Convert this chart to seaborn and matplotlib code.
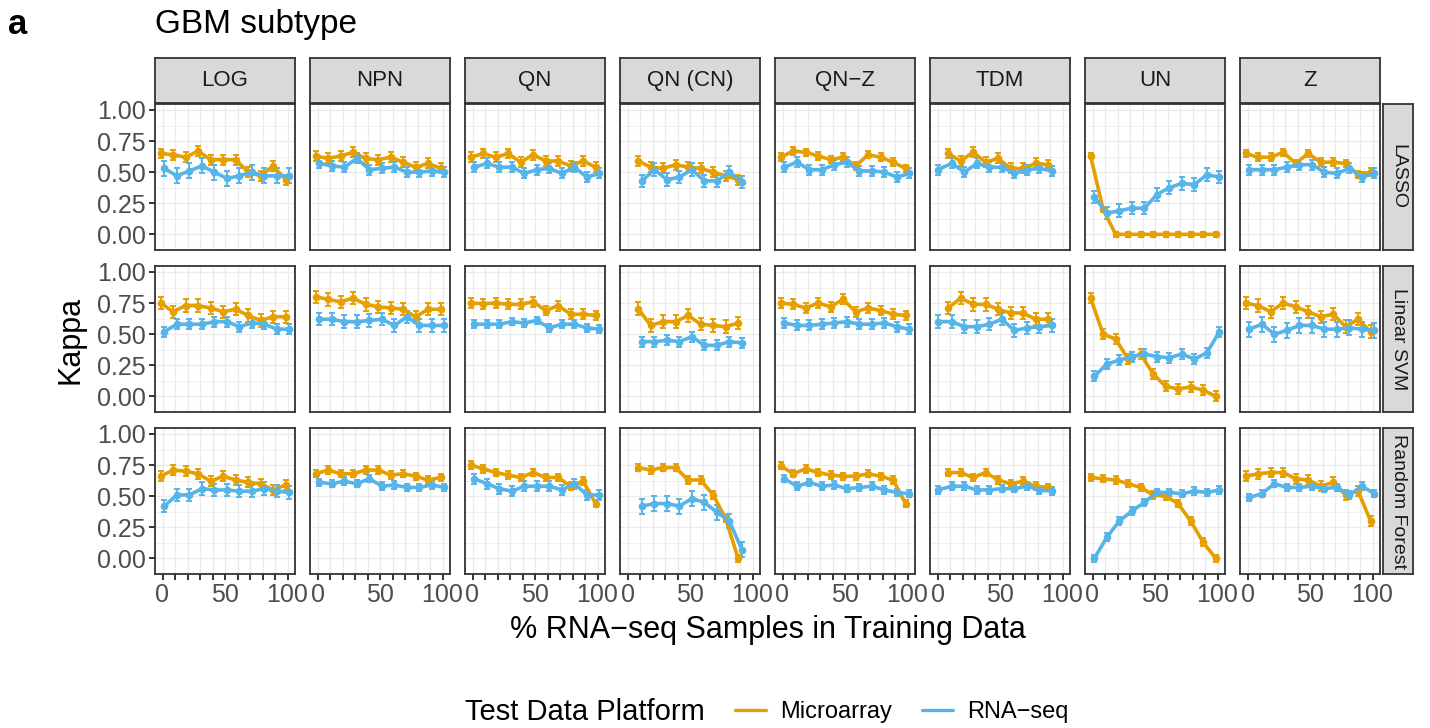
import numpy as np
import pandas as pd
import seaborn as sns
import matplotlib
matplotlib.use("Agg")
import matplotlib.pyplot as plt
from matplotlib.lines import Line2D

nan = np.nan

# x values (% RNA-seq samples in training data)
pcts = [0, 10, 20, 30, 40, 50, 60, 70, 80, 90, 100]
norms = ["LOG", "NPN", "QN", "QN (CN)", "QN\u2212Z", "TDM", "UN", "Z"]
methods = ["LASSO", "Linear SVM", "Random Forest"]
platforms = ["Microarray", "RNA\u2212seq"]

# mean kappa, one row per normalization (same order as norms)
lasso_micro = [
    [0.65, 0.64, 0.62, 0.67, 0.60, 0.60, 0.60, 0.50, 0.47, 0.55, 0.44],
    [0.63, 0.61, 0.63, 0.66, 0.61, 0.60, 0.62, 0.58, 0.54, 0.57, 0.53],
    [0.62, 0.65, 0.62, 0.65, 0.58, 0.64, 0.59, 0.59, 0.55, 0.59, 0.54],
    [nan, 0.59, 0.54, 0.53, 0.56, 0.54, 0.53, 0.50, 0.47, 0.44, nan],
    [0.62, 0.67, 0.66, 0.63, 0.60, 0.62, 0.55, 0.64, 0.62, 0.58, 0.53],
    [nan, 0.65, 0.59, 0.66, 0.58, 0.61, 0.53, 0.53, 0.57, 0.56, nan],
    [0.63, 0.20, 0.00, 0.00, 0.00, 0.00, 0.00, 0.00, 0.00, 0.00, 0.00],
    [0.65, 0.62, 0.62, 0.66, 0.57, 0.65, 0.58, 0.58, 0.57, 0.48, 0.50],
]
lasso_rna = [
    [0.53, 0.47, 0.51, 0.55, 0.50, 0.45, 0.47, 0.50, 0.47, 0.47, 0.47],
    [0.57, 0.55, 0.54, 0.61, 0.52, 0.53, 0.54, 0.50, 0.50, 0.51, 0.50],
    [0.54, 0.57, 0.54, 0.54, 0.49, 0.52, 0.53, 0.49, 0.54, 0.46, 0.49],
    [nan, 0.43, 0.52, 0.44, 0.46, 0.52, 0.43, 0.43, 0.50, 0.42, nan],
    [0.54, 0.58, 0.52, 0.52, 0.56, 0.58, 0.51, 0.51, 0.50, 0.46, 0.49],
    [0.52, 0.57, 0.50, 0.57, 0.54, 0.54, 0.49, 0.52, 0.53, 0.51, nan],
    [0.30, 0.17, 0.19, 0.21, 0.21, 0.32, 0.375, 0.41, 0.40, 0.48, 0.46],
    [0.52, 0.52, 0.52, 0.54, 0.56, 0.56, 0.50, 0.49, 0.53, 0.46, 0.49],
]
svm_micro = [
    [0.75, 0.68, 0.73, 0.73, 0.71, 0.68, 0.70, 0.65, 0.61, 0.64, 0.64],
    [0.80, 0.78, 0.76, 0.79, 0.74, 0.72, 0.71, 0.70, 0.64, 0.70, 0.70],
    [0.75, 0.745, 0.75, 0.74, 0.74, 0.76, 0.69, 0.73, 0.66, 0.66, 0.65],
    [nan, 0.705, 0.57, 0.60, 0.60, 0.65, 0.58, 0.57, 0.56, 0.59, nan],
    [0.75, 0.74, 0.71, 0.75, 0.72, 0.78, 0.68, 0.71, 0.69, 0.66, 0.65],
    [nan, 0.71, 0.79, 0.74, 0.74, 0.70, 0.67, 0.67, 0.62, 0.62, nan],
    [0.79, 0.50, 0.46, 0.30, 0.34, 0.18, 0.08, 0.06, 0.075, 0.05, 0.00],
    [0.75, 0.73, 0.68, 0.75, 0.72, 0.68, 0.64, 0.66, 0.56, 0.62, 0.52],
]
svm_rna = [
    [0.52, 0.58, 0.58, 0.58, 0.60, 0.60, 0.56, 0.59, 0.58, 0.54, 0.54],
    [0.62, 0.62, 0.60, 0.60, 0.61, 0.62, 0.57, 0.64, 0.57, 0.57, 0.57],
    [0.58, 0.58, 0.58, 0.60, 0.59, 0.61, 0.55, 0.58, 0.58, 0.55, 0.54],
    [nan, 0.44, 0.44, 0.45, 0.44, 0.48, 0.41, 0.41, 0.44, 0.43, nan],
    [0.59, 0.57, 0.57, 0.58, 0.59, 0.60, 0.58, 0.58, 0.59, 0.56, 0.54],
    [0.60, 0.60, 0.56, 0.56, 0.58, 0.62, 0.53, 0.55, 0.56, 0.57, nan],
    [0.16, 0.26, 0.29, 0.32, 0.34, 0.32, 0.31, 0.34, 0.30, 0.35, 0.52],
    [0.54, 0.58, 0.50, 0.53, 0.57, 0.57, 0.54, 0.54, 0.55, 0.54, 0.53],
]
rf_micro = [
    [0.66, 0.71, 0.70, 0.68, 0.62, 0.66, 0.63, 0.61, 0.60, 0.55, 0.59],
    [0.68, 0.71, 0.68, 0.68, 0.71, 0.71, 0.67, 0.68, 0.66, 0.63, 0.65],
    [0.75, 0.72, 0.69, 0.67, 0.65, 0.69, 0.65, 0.65, 0.58, 0.62, 0.44],
    [nan, 0.73, 0.71, 0.73, 0.73, 0.63, 0.63, 0.51, 0.32, 0.00, nan],
    [0.745, 0.68, 0.72, 0.69, 0.67, 0.66, 0.66, 0.68, 0.66, 0.63, 0.44],
    [nan, 0.69, 0.69, 0.65, 0.69, 0.63, 0.60, 0.62, 0.58, 0.57, nan],
    [0.65, 0.64, 0.63, 0.60, 0.57, 0.51, 0.50, 0.44, 0.30, 0.13, 0.00],
    [0.66, 0.68, 0.69, 0.69, 0.64, 0.63, 0.58, 0.61, 0.51, 0.54, 0.30],
]
rf_rna = [
    [0.42, 0.51, 0.51, 0.56, 0.55, 0.55, 0.54, 0.54, 0.56, 0.54, 0.53],
    [0.61, 0.60, 0.62, 0.60, 0.64, 0.58, 0.59, 0.57, 0.57, 0.59, 0.57],
    [0.64, 0.60, 0.56, 0.54, 0.58, 0.58, 0.58, 0.55, 0.60, 0.51, 0.51],
    [nan, 0.42, 0.44, 0.44, 0.42, 0.48, 0.45, 0.37, 0.30, 0.07, nan],
    [0.64, 0.58, 0.61, 0.58, 0.59, 0.56, 0.57, 0.58, 0.55, 0.53, 0.52],
    [0.55, 0.58, 0.58, 0.55, 0.55, 0.56, 0.56, 0.58, 0.55, 0.54, nan],
    [0.00, 0.17, 0.30, 0.38, 0.45, 0.53, 0.53, 0.52, 0.54, 0.53, 0.55],
    [0.49, 0.52, 0.60, 0.57, 0.57, 0.58, 0.56, 0.57, 0.51, 0.58, 0.52],
]

# typical error bar half-width per panel
lasso_err_micro = [0.04, 0.04, 0.04, 0.04, 0.03, 0.04, 0.02, 0.03]
lasso_err_rna = [0.06, 0.04, 0.04, 0.05, 0.04, 0.04, 0.05, 0.04]
svm_err_micro = [0.05, 0.05, 0.04, 0.05, 0.04, 0.05, 0.04, 0.05]
svm_err_rna = [0.04, 0.05, 0.03, 0.04, 0.04, 0.05, 0.04, 0.06]
rf_err_micro = [0.04, 0.03, 0.03, 0.03, 0.03, 0.03, 0.03, 0.04]
rf_err_rna = [0.05, 0.03, 0.04, 0.06, 0.03, 0.03, 0.03, 0.03]

micro_by_method = [lasso_micro, svm_micro, rf_micro]
rna_by_method = [lasso_rna, svm_rna, rf_rna]
err_micro_by_method = [lasso_err_micro, svm_err_micro, rf_err_micro]
err_rna_by_method = [lasso_err_rna, svm_err_rna, rf_err_rna]

colors = {"Microarray": "#E69F00", "RNA\u2212seq": "#56B4E9"}

sns.set_theme(style="whitegrid")
plt.rcParams["font.family"] = ["Liberation Sans", "DejaVu Sans"]
plt.rcParams["text.color"] = "black"

W, H = 1430, 728
fig = plt.figure(figsize=(W / 100, H / 100), dpi=100)


def rect(x0, y0, w, h):
    # pixel box (top-left origin) -> figure fraction
    return [x0 / W, 1 - (y0 + h) / H, w / W, h / H]


col_left = [155 + 155 * j for j in range(8)]
row_top = [104, 266, 428]
pw, ph = 140, 146
dodge = 1.5

for i, method in enumerate(methods):
    for j, norm in enumerate(norms):
        micro = micro_by_method[i][j]
        rna = rna_by_method[i][j]
        rows = []
        for k, x in enumerate(pcts):
            both = not np.isnan(micro[k]) and not np.isnan(rna[k])
            off = dodge if both else 0.0
            if not np.isnan(micro[k]):
                rows.append((x - off, micro[k], platforms[0], err_micro_by_method[i][j]))
            if not np.isnan(rna[k]):
                rows.append((x + off, rna[k], platforms[1], err_rna_by_method[i][j]))
        df = pd.DataFrame(rows, columns=["xpos", "kappa", "platform", "err"])

        ax = fig.add_axes(rect(col_left[j], row_top[i], pw, ph))
        for p in platforms:
            sub = df[df["platform"] == p]
            ax.errorbar(sub["xpos"], sub["kappa"], yerr=sub["err"], fmt="none",
                        ecolor=colors[p], elinewidth=1.4, capsize=2.2, capthick=1.4, zorder=3)
        sns.lineplot(data=df, x="xpos", y="kappa", hue="platform", hue_order=platforms,
                     palette=colors, marker="o", markersize=5.5, markeredgewidth=0,
                     linewidth=2.6, errorbar=None, legend=False, ax=ax, zorder=4)

        ax.set_xlim(-6, 106)
        ax.set_ylim(-0.126, 1.048)
        ax.set_xlabel("")
        ax.set_ylabel("")
        ax.set_facecolor("white")
        ax.set_xticks(pcts)
        ax.set_xticklabels(["0", "", "", "", "", "50", "", "", "", "", "100"])
        ax.set_yticks([0, 0.25, 0.5, 0.75, 1.0])
        ax.set_yticklabels(["0.00", "0.25", "0.50", "0.75", "1.00"])
        ax.set_yticks([0.125, 0.375, 0.625, 0.875], minor=True)
        ax.grid(which="major", color="#EBEBEB", linewidth=1.0)
        ax.grid(which="minor", axis="y", color="#EBEBEB", linewidth=0.5)
        for s in ax.spines.values():
            s.set_color("#333333")
            s.set_linewidth(1.3)
        ax.tick_params(axis="both", which="major", bottom=True, left=True, length=4.5,
                       width=1.4, color="#333333", labelcolor="#4D4D4D", labelsize=18, pad=2)
        ax.tick_params(axis="both", which="minor", length=0)
        if j > 0:
            ax.tick_params(axis="y", left=False, labelleft=False)
        if i < 2:
            ax.tick_params(axis="x", bottom=False, labelbottom=False)

        # top strips
        if i == 0:
            sax = fig.add_axes(rect(col_left[j], 58, pw, 45))
            sax.set_facecolor("#D9D9D9")
            sax.set_xticks([])
            sax.set_yticks([])
            sax.grid(False)
            for s in sax.spines.values():
                s.set_color("#333333")
                s.set_linewidth(1.3)
            sax.text(0.5, 0.5, norm, ha="center", va="center", fontsize=16,
                     color="#1A1A1A", transform=sax.transAxes)

    # right strips
    rax = fig.add_axes(rect(1383, row_top[i], 30, ph))
    rax.set_facecolor("#D9D9D9")
    rax.set_xticks([])
    rax.set_yticks([])
    rax.grid(False)
    for s in rax.spines.values():
        s.set_color("#333333")
        s.set_linewidth(1.3)
    rax.text(0.5, 0.5, method, ha="center", va="center", rotation=-90, fontsize=14,
             color="#1A1A1A", transform=rax.transAxes)

fig.text(8 / W, 1 - 24 / H, "a", fontsize=25, fontweight="bold", ha="left", va="center")
fig.text(155 / W, 1 - 24 / H, "GBM subtype", fontsize=24, ha="left", va="center")
fig.text(70 / W, 1 - 340 / H, "Kappa", fontsize=22, rotation=90, ha="center", va="center")
fig.text(768 / W, 1 - 630 / H, "% RNA\u2212seq Samples in Training Data", fontsize=22,
         ha="center", va="center")

# legend
fig.text(465 / W, 1 - 712 / H, "Test Data Platform", fontsize=21, ha="left", va="center")
handles = [Line2D([], [], color=colors[p], linewidth=2.4) for p in platforms]
fig.legend(handles, platforms, loc="center left", bbox_to_anchor=(735 / W, 1 - 712 / H),
           ncol=2, frameon=False, fontsize=17, handlelength=1.3, handletextpad=0.6,
           columnspacing=1.3, borderaxespad=0, borderpad=0)

fig.savefig("out.png", dpi=100)
